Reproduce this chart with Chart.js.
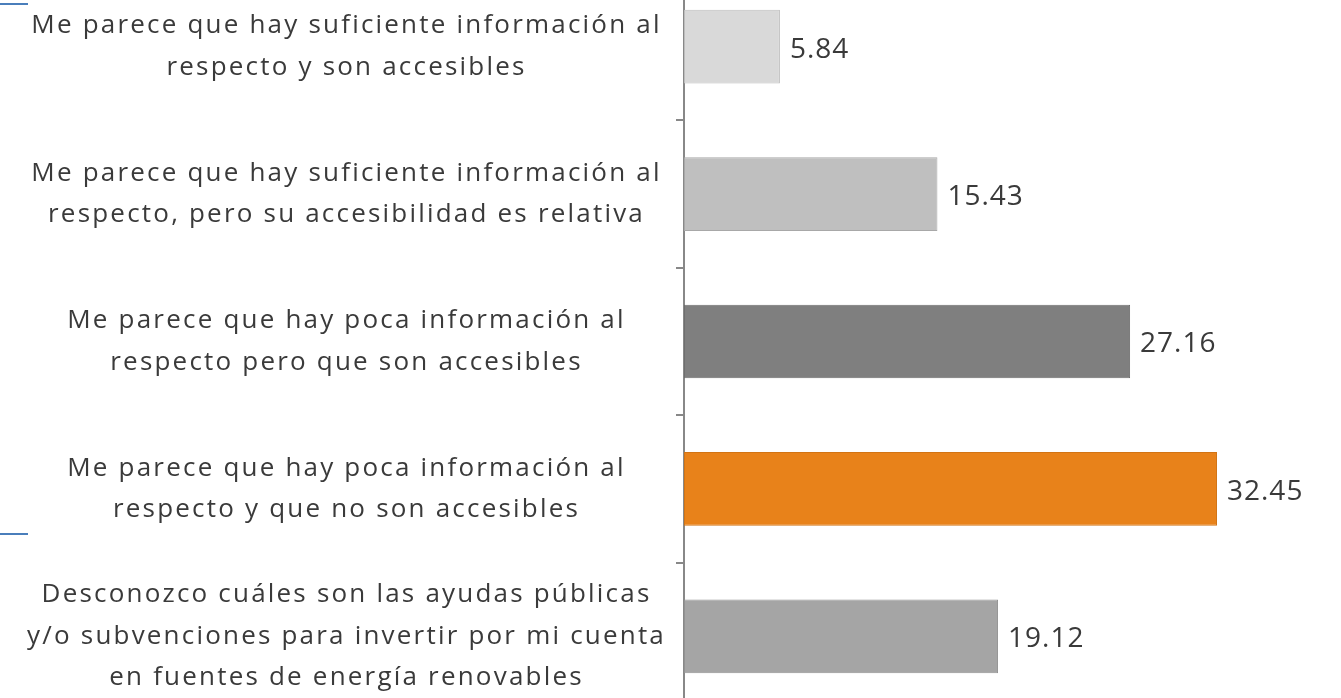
<!DOCTYPE html>
<html>
<head>
<meta charset="utf-8">
<script src="https://cdn.jsdelivr.net/npm/chart.js@4"></script>
<style>
  html, body { margin: 0; padding: 0; background: #fff; overflow: hidden; }
  body { width: 1341px; height: 698px; position: relative; }
  #wrap { position: absolute; left: 0; top: -27px; width: 1341px; height: 737px; }
  .deco { position: absolute; left: 0; width: 28px; background: #4a7ebb; }
</style>
</head>
<body>
<div class="deco" style="top:3px;height:2px;"></div>
<div class="deco" style="top:533px;height:2px;"></div>
<div id="wrap"><canvas id="chart"></canvas></div>
<script>
// survey answers, one bar each
const CATEGORIES = [
  ["Me parece que hay suficiente información al", "respecto y son accesibles"],
  ["Me parece que hay suficiente información al", "respecto, pero su accesibilidad es relativa"],
  ["Me parece que hay poca información al", "respecto pero que son accesibles"],
  ["Me parece que hay poca información al", "respecto y que no son accesibles"],
  ["Desconozco cuáles son las ayudas públicas", "y/o subvenciones para invertir por mi cuenta", "en fuentes de energía renovables"],
];
const VALUES = [5.84, 15.43, 27.16, 32.45, 19.12];

const BAR_COLORS = ["#d9d9d9", "#bfbfbf", "#7f7f7f", "#e8821a", "#a5a5a5"];
const BAR_BORDERS = ["#bdbdbd", "#a8a8a8", "#6e6e6e", "#d27414", "#929292"];
const TEXT = "#3a3a3a";
const FONT = "'Open Sans', sans-serif";
const LABEL_SPACING = "2.2px";

// wider tracking for the category labels (set before measuring and drawing)
const labelTracking = {
  id: "labelTracking",
  beforeLayout(chart) { chart.ctx.letterSpacing = LABEL_SPACING; },
  beforeDraw(chart) { chart.ctx.letterSpacing = LABEL_SPACING; },
};

const valueLabels = {
  id: "valueLabels",
  afterDatasetsDraw(chart) {
    const ctx = chart.ctx;
    const meta = chart.getDatasetMeta(0);
    ctx.save();
    ctx.letterSpacing = "1px";
    ctx.font = "28px " + FONT;
    ctx.fillStyle = TEXT;
    ctx.textBaseline = "middle";
    ctx.textAlign = "left";
    meta.data.forEach((bar, i) => {
      ctx.fillText(VALUES[i].toFixed(2), bar.x + 10, bar.y + 3);
    });
    ctx.restore();
  },
};

new Chart(document.getElementById("chart").getContext("2d"), {
  type: "bar",
  data: {
    labels: CATEGORIES,
    datasets: [
      {
        data: VALUES,
        backgroundColor: BAR_COLORS,
        borderColor: BAR_BORDERS,
        borderWidth: 1,
        borderSkipped: false,
        barPercentage: 0.5,
        categoryPercentage: 1,
      },
    ],
  },
  options: {
    indexAxis: "y",
    responsive: true,
    maintainAspectRatio: false,
    animation: false,
    layout: { padding: 0 },
    plugins: { legend: { display: false }, tooltip: { enabled: false } },
    scales: {
      x: { display: false, min: 0, max: 40 },
      y: {
        afterFit: (scale) => {
          scale.width = 684;
          scale.paddingTop = 0;
          scale.paddingBottom = 0;
        },
        border: { display: true, color: "#888888", width: 2 },
        grid: {
          display: true,
          drawOnChartArea: false,
          drawTicks: true,
          tickLength: 8,
          color: "#888888",
          lineWidth: 2,
          offset: true,
        },
        ticks: {
          crossAlign: "center",
          padding: 10,
          color: TEXT,
          font: { family: FONT, size: 26, lineHeight: 1.6 },
        },
      },
    },
  },
  plugins: [labelTracking, valueLabels],
});
</script>
</body>
</html>
